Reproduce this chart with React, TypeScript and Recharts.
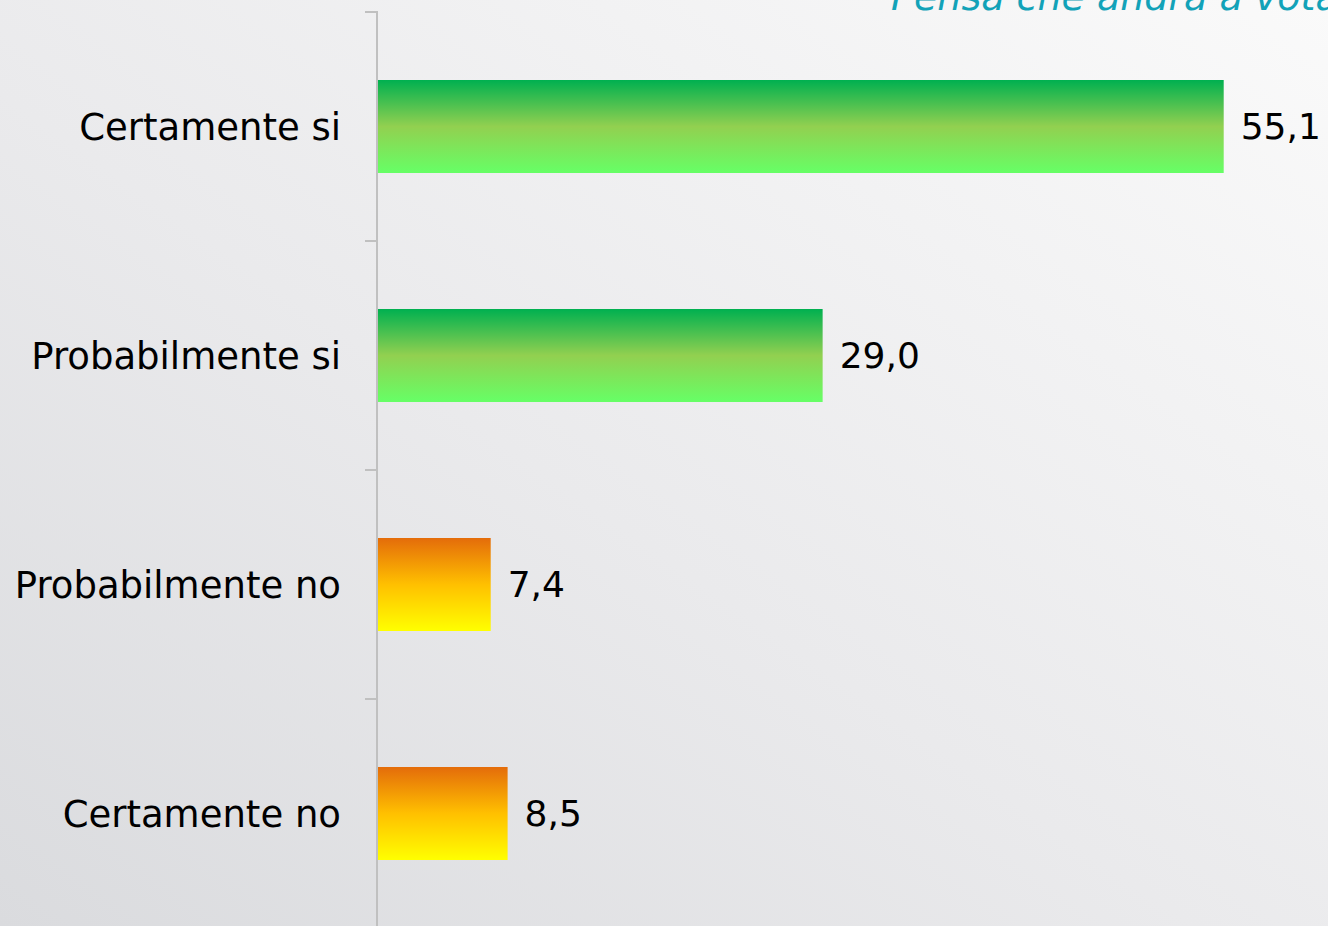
import React from "react";
import { BarChart, Bar, XAxis, YAxis, LabelList, Cell } from "recharts";

const categories = ["Certamente si", "Probabilmente si", "Probabilmente no", "Certamente no"];
const values = [55.1, 29.0, 7.4, 8.5];
const kinds = ["pos", "pos", "neg", "neg"];
const title = "Pensa che andrà a votare?";

const data = categories.map((c, i) => ({ name: c, value: values[i], kind: kinds[i] }));

const FONT = "'DejaVu Sans', Verdana, sans-serif";

const fmt = (v: number) => v.toFixed(1).replace(".", ",");

const CategoryTick = (props: any) => {
  const { x, y, payload } = props;
  const off = payload && payload.offset ? payload.offset : 0;
  return (
    <g>
      <text x={x - 12} y={y} dy={13} textAnchor="end" fontSize={37} fill="#000" fontFamily={FONT}>
        {payload.value}
      </text>
      <line x1={x + 12} x2={x + 25} y1={y - off} y2={y - off} stroke="#c0c0c0" strokeWidth={2} />
    </g>
  );
};

export default function App() {
  return (
    <div
      style={{
        position: "absolute",
        left: 0,
        top: 0,
        width: 1328,
        height: 926,
        overflow: "hidden",
        background: "linear-gradient(to top right, #dadbde 0%, #eaeaec 45%, #fafafa 100%)",
      }}
    >
      <svg width={1328} height={40} style={{ position: "absolute", left: 0, top: 0 }}>
        <text x={891} y={10} fontSize={38} fontStyle="italic" fill="#12a2b8" fontFamily={FONT}>
          {title}
        </text>
      </svg>
      <div style={{ position: "absolute", left: 0, top: 0 }}>
        <BarChart
          width={1328}
          height={928}
          data={data}
          layout="vertical"
          margin={{ top: 12, right: 29, bottom: 0, left: 0 }}
          barCategoryGap={0}
        >
          <defs>
            <linearGradient id="gPos" x1="0" y1="0" x2="0" y2="1">
              <stop offset="0%" stopColor="#00b050" />
              <stop offset="50%" stopColor="#92d050" />
              <stop offset="100%" stopColor="#66ff66" />
            </linearGradient>
            <linearGradient id="gNeg" x1="0" y1="0" x2="0" y2="1">
              <stop offset="0%" stopColor="#e46c0a" />
              <stop offset="50%" stopColor="#ffc000" />
              <stop offset="100%" stopColor="#ffff00" />
            </linearGradient>
          </defs>
          <XAxis type="number" domain={[0, 60]} hide />
          <YAxis
            type="category"
            dataKey="name"
            width={377}
            axisLine={{ stroke: "#c0c0c0", strokeWidth: 2 }}
            tickLine={false}
            tickSize={13}
            tickMargin={11}
            tick={<CategoryTick />}
            interval={0}
          />
          <Bar dataKey="value" barSize={93} isAnimationActive={false}>
            {data.map((d, i) => (
              <Cell key={i} fill={d.kind === "pos" ? "url(#gPos)" : "url(#gNeg)"} />
            ))}
            <LabelList
              dataKey="value"
              position="right"
              offset={17}
              formatter={(v: any) => fmt(Number(v))}
              style={{ fontSize: 36, fill: "#000", fontFamily: FONT }}
            />
          </Bar>
        </BarChart>
      </div>
    </div>
  );
}
